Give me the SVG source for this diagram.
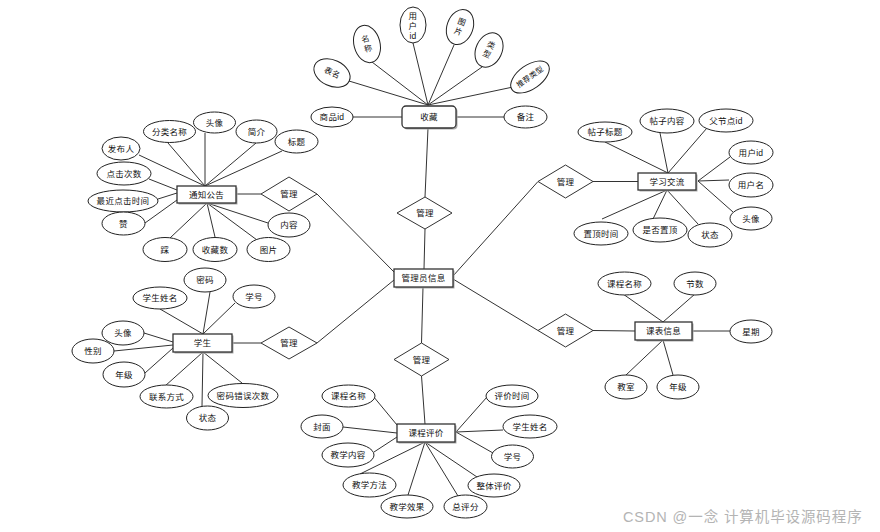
<svg xmlns="http://www.w3.org/2000/svg" width="880" height="532" viewBox="0 0 880 532">
<style>
.bg{fill:#ffffff}
.ln{stroke:#333;stroke-width:1;fill:none}
.el{fill:#fff;stroke:#222;stroke-width:1}
.bx{fill:#fff;stroke:#333;stroke-width:1.3}
.sh{fill:#aaa}
.dm{fill:#fff;stroke:#333;stroke-width:1}
text{font-family:"Liberation Sans","Noto Sans CJK SC",sans-serif;font-size:8.5px;fill:#111;text-anchor:middle;dominant-baseline:central;letter-spacing:0.3px}
.wm{font-size:14.5px;fill:#b4b4b4;text-anchor:start;letter-spacing:0.9px}
</style>
<rect class="bg" x="0" y="0" width="880" height="532"/>
<g id="connectors" class="ln">
<line x1="428" y1="128" x2="425" y2="197"/>
<line x1="425" y1="229" x2="424" y2="269"/>
<line x1="423" y1="287" x2="421.5" y2="343"/>
<line x1="421.5" y1="376" x2="425" y2="424"/>
<line x1="236" y1="194" x2="261" y2="194"/>
<line x1="317" y1="194" x2="394" y2="272"/>
<line x1="232" y1="343" x2="261" y2="343"/>
<line x1="317" y1="343" x2="394" y2="280"/>
<line x1="453" y1="276" x2="538" y2="181.5"/>
<line x1="593" y1="181.5" x2="638" y2="181.5"/>
<line x1="453" y1="279" x2="538" y2="330.5"/>
<line x1="593" y1="330.5" x2="635" y2="331"/>
<line x1="353" y1="117" x2="402" y2="117"/>
<line x1="456" y1="117" x2="504" y2="117"/>
<line x1="349" y1="81" x2="428" y2="105"/>
<line x1="372" y1="62" x2="428" y2="105"/>
<line x1="413" y1="43" x2="428" y2="105"/>
<line x1="454" y1="45" x2="428" y2="105"/>
<line x1="482" y1="67" x2="428" y2="105"/>
<line x1="513" y1="87" x2="428" y2="105"/>
<line x1="168" y1="143" x2="205" y2="186"/>
<line x1="205" y1="133" x2="205" y2="186"/>
<line x1="256" y1="143" x2="205" y2="186"/>
<line x1="282" y1="151" x2="205" y2="186"/>
<line x1="139" y1="155" x2="205" y2="186"/>
<line x1="149" y1="179" x2="177" y2="190"/>
<line x1="158" y1="199" x2="177" y2="193"/>
<line x1="145" y1="223" x2="177" y2="200"/>
<line x1="170" y1="238" x2="207" y2="203"/>
<line x1="215" y1="237" x2="207" y2="203"/>
<line x1="257" y1="240" x2="207" y2="203"/>
<line x1="268" y1="223" x2="207" y2="203"/>
<line x1="605" y1="142" x2="668" y2="173"/>
<line x1="660" y1="133" x2="668" y2="173"/>
<line x1="707" y1="128" x2="668" y2="173"/>
<line x1="730" y1="157" x2="698" y2="181"/>
<line x1="729" y1="180" x2="698" y2="181"/>
<line x1="733" y1="212" x2="698" y2="181"/>
<line x1="602" y1="219" x2="667" y2="190"/>
<line x1="653" y1="219" x2="667" y2="190"/>
<line x1="698" y1="224" x2="667" y2="190"/>
<line x1="210" y1="292" x2="203" y2="334"/>
<line x1="160" y1="309" x2="203" y2="334"/>
<line x1="235" y1="303" x2="203" y2="334"/>
<line x1="144" y1="333" x2="173" y2="342"/>
<line x1="114" y1="351" x2="173" y2="345"/>
<line x1="145" y1="373" x2="173" y2="348"/>
<line x1="165" y1="386" x2="203" y2="352"/>
<line x1="202" y1="406" x2="203" y2="352"/>
<line x1="242" y1="383" x2="203" y2="352"/>
<line x1="623" y1="294" x2="663" y2="322"/>
<line x1="695" y1="294" x2="663" y2="322"/>
<line x1="692" y1="331" x2="730" y2="331"/>
<line x1="626" y1="375" x2="663" y2="340"/>
<line x1="673" y1="375" x2="663" y2="340"/>
<line x1="373" y1="396" x2="397" y2="425"/>
<line x1="343" y1="427" x2="397" y2="433"/>
<line x1="374" y1="452" x2="397" y2="437"/>
<line x1="487" y1="397" x2="456" y2="432"/>
<line x1="503" y1="430" x2="456" y2="432"/>
<line x1="493" y1="453" x2="456" y2="432"/>
<line x1="360" y1="474" x2="425" y2="442"/>
<line x1="408" y1="495" x2="425" y2="442"/>
<line x1="458" y1="496" x2="425" y2="442"/>
<line x1="477" y1="477" x2="425" y2="442"/>
</g>
<g id="admin"><rect class="sh" x="395.5" y="270.5" width="59" height="18"/><rect class="bx" x="394" y="269" width="59" height="18"/><text x="423.5" y="278">管理员信息</text></g>
<g id="d-collect"><polygon class="dm" points="425,197 452,213 425,229 397,213"/><text x="425" y="213">管理</text></g>
<g id="d-notice"><polygon class="dm" points="289,177 317,194 289,211 261,194"/><text x="289" y="194">管理</text></g>
<g id="d-student"><polygon class="dm" points="289,327 317,343 289,359 261,343"/><text x="289" y="343">管理</text></g>
<g id="d-forum"><polygon class="dm" points="565.5,165 593,181.5 565.5,198 538,181.5"/><text x="565.5" y="181.5">管理</text></g>
<g id="d-schedule"><polygon class="dm" points="565.5,314 593,330.5 565.5,347 538,330.5"/><text x="565.5" y="330.5">管理</text></g>
<g id="d-eval"><polygon class="dm" points="421.5,343 449,359.5 421.5,376 394,359.5"/><text x="421.5" y="359.5">管理</text></g>
<g id="collect"><rect class="sh" x="403.5" y="107.5" width="54" height="22" rx="4"/><rect class="bx" x="402" y="106" width="54" height="22" rx="4"/><text x="429" y="117">收藏</text></g>
<g id="c-spid"><ellipse class="el" cx="332" cy="117" rx="21" ry="10"/><text x="332" y="117">商品id</text></g>
<g id="c-bz"><ellipse class="el" cx="525.5" cy="117" rx="21.5" ry="11"/><text x="525.5" y="117">备注</text></g>
<g id="c-bm" transform="translate(332,73) rotate(25)"><ellipse class="el" cx="0" cy="0" rx="19" ry="13"/><text x="0" y="0" style="font-size:8px">表名</text></g>
<g id="c-mc" transform="translate(367,44) rotate(-15)"><ellipse class="el" cx="0" cy="0" rx="13" ry="19"/><text x="0" y="-5" style="font-size:8px">名</text><text x="0" y="5" style="font-size:8px">称</text></g>
<g id="c-yhid"><ellipse class="el" cx="413" cy="25" rx="13" ry="18"/><text x="413" y="16">用</text><text x="413" y="25.5">户</text><text x="413" y="36">id</text></g>
<g id="c-tp" transform="translate(460,27) rotate(20)"><ellipse class="el" cx="0" cy="0" rx="13" ry="18"/><text x="0" y="-5" style="font-size:8px">图</text><text x="0" y="5" style="font-size:8px">片</text></g>
<g id="c-lx" transform="translate(489,50) rotate(25)"><ellipse class="el" cx="0" cy="0" rx="13" ry="18"/><text x="0" y="-5" style="font-size:8px">类</text><text x="0" y="5" style="font-size:8px">型</text></g>
<g id="c-tjlx" transform="translate(530,77) rotate(-35)"><ellipse class="el" cx="0" cy="0" rx="22" ry="12"/><text x="0" y="0" style="font-size:7.5px">推荐类型</text></g>
<g id="notice"><rect class="sh" x="178.5" y="187.5" width="59" height="17"/><rect class="bx" x="177" y="186" width="59" height="17"/><text x="206.5" y="194.5">通知公告</text></g>
<g id="n-flmc"><ellipse class="el" cx="169.5" cy="131.5" rx="26" ry="11"/><text x="169.5" y="131.5">分类名称</text></g>
<g id="n-tx"><ellipse class="el" cx="214.5" cy="122.5" rx="21" ry="10.5"/><text x="214.5" y="122.5">头像</text></g>
<g id="n-jj"><ellipse class="el" cx="256.5" cy="131.5" rx="20.5" ry="11.5"/><text x="256.5" y="131.5">简介</text></g>
<g id="n-bt"><ellipse class="el" cx="296.5" cy="141.5" rx="21.5" ry="11.5"/><text x="296.5" y="141.5">标题</text></g>
<g id="n-fbr"><ellipse class="el" cx="121" cy="148.5" rx="19" ry="11.5"/><text x="121" y="148.5">发布人</text></g>
<g id="n-djcs"><ellipse class="el" cx="124" cy="173.5" rx="27" ry="11.5"/><text x="124" y="173.5">点击次数</text></g>
<g id="n-zjdjsj"><ellipse class="el" cx="123" cy="201" rx="35" ry="11"/><text x="123" y="201">最近点击时间</text></g>
<g id="n-zan"><ellipse class="el" cx="123.5" cy="223.5" rx="21.5" ry="11.5"/><text x="123.5" y="223.5">赞</text></g>
<g id="n-cai"><ellipse class="el" cx="165" cy="249.5" rx="22" ry="12"/><text x="165" y="249.5">踩</text></g>
<g id="n-scs"><ellipse class="el" cx="215" cy="249.5" rx="22" ry="12"/><text x="215" y="249.5">收藏数</text></g>
<g id="n-tp"><ellipse class="el" cx="268.5" cy="249.5" rx="21.5" ry="12"/><text x="268.5" y="249.5">图片</text></g>
<g id="n-nr"><ellipse class="el" cx="289" cy="225" rx="21" ry="12"/><text x="289" y="225">内容</text></g>
<g id="forum"><rect class="sh" x="639.5" y="174.5" width="58" height="17"/><rect class="bx" x="638" y="173" width="58" height="17"/><text x="667" y="181.5">学习交流</text></g>
<g id="f-tzbt"><ellipse class="el" cx="605" cy="132" rx="27" ry="10"/><text x="605" y="132">帖子标题</text></g>
<g id="f-tznr"><ellipse class="el" cx="667" cy="121" rx="27" ry="12"/><text x="667" y="121">帖子内容</text></g>
<g id="f-fjdid"><ellipse class="el" cx="726" cy="120.5" rx="27" ry="11.5"/><text x="726" y="120.5">父节点id</text></g>
<g id="f-yhid"><ellipse class="el" cx="751" cy="152.5" rx="22" ry="11.5"/><text x="751" y="152.5">用户id</text></g>
<g id="f-yhm"><ellipse class="el" cx="751" cy="185" rx="22" ry="12"/><text x="751" y="185">用户名</text></g>
<g id="f-tx"><ellipse class="el" cx="751" cy="218.5" rx="21" ry="11.5"/><text x="751" y="218.5">头像</text></g>
<g id="f-zdsj"><ellipse class="el" cx="601" cy="233.5" rx="27" ry="11.5"/><text x="601" y="233.5">置顶时间</text></g>
<g id="f-sfzd"><ellipse class="el" cx="660" cy="230" rx="27" ry="12"/><text x="660" y="230">是否置顶</text></g>
<g id="f-zt"><ellipse class="el" cx="710" cy="235" rx="22" ry="12"/><text x="710" y="235">状态</text></g>
<g id="student"><rect class="sh" x="174.5" y="335.5" width="59" height="18"/><rect class="bx" x="173" y="334" width="59" height="18"/><text x="202.5" y="343">学生</text></g>
<g id="s-mm"><ellipse class="el" cx="205" cy="280" rx="21" ry="12"/><text x="205" y="280">密码</text></g>
<g id="s-xsxm"><ellipse class="el" cx="160" cy="298" rx="27" ry="11"/><text x="160" y="298">学生姓名</text></g>
<g id="s-xh"><ellipse class="el" cx="254" cy="296.5" rx="21" ry="11.5"/><text x="254" y="296.5">学号</text></g>
<g id="s-tx"><ellipse class="el" cx="123" cy="333" rx="21" ry="12"/><text x="123" y="333">头像</text></g>
<g id="s-xb"><ellipse class="el" cx="93" cy="351" rx="21" ry="12"/><text x="93" y="351">性别</text></g>
<g id="s-nj"><ellipse class="el" cx="124" cy="374.5" rx="21" ry="12.5"/><text x="124" y="374.5">年级</text></g>
<g id="s-lxfs"><ellipse class="el" cx="166.5" cy="396.5" rx="26.5" ry="11.5"/><text x="166.5" y="396.5">联系方式</text></g>
<g id="s-zt"><ellipse class="el" cx="207.5" cy="418" rx="21" ry="12"/><text x="207.5" y="418">状态</text></g>
<g id="s-mmcwcs"><ellipse class="el" cx="243" cy="395.5" rx="35" ry="12"/><text x="243" y="395.5">密码错误次数</text></g>
<g id="schedule"><rect class="sh" x="636.5" y="323.5" width="57" height="18"/><rect class="bx" x="635" y="322" width="57" height="18"/><text x="663.5" y="331">课表信息</text></g>
<g id="k-kcmc"><ellipse class="el" cx="624.5" cy="283.5" rx="26.5" ry="11.5"/><text x="624.5" y="283.5">课程名称</text></g>
<g id="k-js"><ellipse class="el" cx="695" cy="283.5" rx="21" ry="11.5"/><text x="695" y="283.5">节数</text></g>
<g id="k-xq"><ellipse class="el" cx="751" cy="331.5" rx="21" ry="11.5"/><text x="751" y="331.5">星期</text></g>
<g id="k-jsh"><ellipse class="el" cx="626" cy="387" rx="21" ry="12"/><text x="626" y="387">教室</text></g>
<g id="k-nj"><ellipse class="el" cx="678" cy="387" rx="21" ry="12"/><text x="678" y="387">年级</text></g>
<g id="evaluation"><rect class="sh" x="398.5" y="425.5" width="58" height="18"/><rect class="bx" x="397" y="424" width="58" height="18"/><text x="426" y="433">课程评价</text></g>
<g id="e-kcmc"><ellipse class="el" cx="348.5" cy="396" rx="26.5" ry="11"/><text x="348.5" y="396">课程名称</text></g>
<g id="e-fm"><ellipse class="el" cx="322" cy="426.5" rx="21" ry="11.5"/><text x="322" y="426.5">封面</text></g>
<g id="e-jxnr"><ellipse class="el" cx="348" cy="455" rx="26" ry="12"/><text x="348" y="455">教学内容</text></g>
<g id="e-pjsj"><ellipse class="el" cx="512" cy="396" rx="26" ry="11"/><text x="512" y="396">评价时间</text></g>
<g id="e-xsxm"><ellipse class="el" cx="530" cy="426.5" rx="27" ry="11.5"/><text x="530" y="426.5">学生姓名</text></g>
<g id="e-xh"><ellipse class="el" cx="512.5" cy="456.5" rx="21" ry="11.5"/><text x="512.5" y="456.5">学号</text></g>
<g id="e-jxff"><ellipse class="el" cx="369.5" cy="485" rx="26.5" ry="12"/><text x="369.5" y="485">教学方法</text></g>
<g id="e-jxxg"><ellipse class="el" cx="407" cy="506.5" rx="26" ry="11.5"/><text x="407" y="506.5">教学效果</text></g>
<g id="e-zpf"><ellipse class="el" cx="465.5" cy="506.5" rx="21.5" ry="11.5"/><text x="465.5" y="506.5">总评分</text></g>
<g id="e-ztpj"><ellipse class="el" cx="494" cy="485.5" rx="26" ry="11.5"/><text x="494" y="485.5">整体评价</text></g>
<text class="wm" x="623" y="517">CSDN @一念 计算机毕设源码程序</text>
</svg>
